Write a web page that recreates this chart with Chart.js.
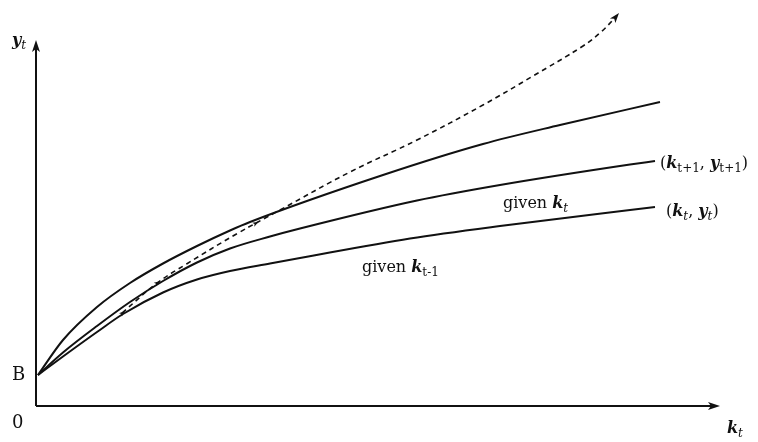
<!DOCTYPE html>
<html>
<head>
<meta charset="utf-8">
<script src="https://cdn.jsdelivr.net/npm/chart.js@4.4.1/dist/chart.umd.min.js"></script>
<style>
  html, body { margin: 0; padding: 0; background: #fff; }
  #wrap { width: 758px; height: 442px; }
</style>
</head>
<body>
<div id="wrap"><canvas id="growth"></canvas></div>
<script>
// capital k (x) and output y
const topK = [2, 27, 61, 94, 127, 161, 194, 214, 347, 447, 524, 624];
const topY = [31, 66, 99, 123, 142.5, 160, 175.5, 184, 231, 262, 281, 304];

const midK = [2, 27, 61, 94, 127, 161, 194, 234, 264, 381, 464, 594, 619];
const midY = [31, 53.5, 80, 104, 125, 143.5, 157.5, 169.5, 177.5, 205.5, 221, 241.5, 245];

const lowK = [2, 27, 61, 87, 127, 161, 194, 234, 264, 374, 464, 594, 619];
const lowY = [31, 49.5, 74, 92, 113.5, 126.5, 135, 142.5, 148, 167.5, 180, 196, 199];

const pathK = [86, 121, 151, 201, 244, 314, 381, 447, 497, 547, 565, 579];
const pathY = [93, 122.8, 142.3, 172.3, 196, 234, 266, 301, 330, 360, 374, 388];

const xMax = 684, yMax = 400, yAxisTop = 366;

// text labels: [k, y, parts]; part = [text, style]
const labels = [
  [-24, 361, [["y", "m"], ["t", "s"]]],
  [-24, 26, [["B", "b"]]],
  [-24, -22, [["0", "b"]]],
  [691, -27, [["k", "m"], ["t", "s"]]],
  [467, 198, [["given ", "n"], ["k", "m"], ["t", "s"]]],
  [326, 134, [["given ", "n"], ["k", "m"], ["t-1", "sn"]]],
  [624, 238, [["(", "n"], ["k", "m"], ["t+1", "sn"], [", ", "n"], ["y", "m"], ["t+1", "sn"], [")", "n"]]],
  [630, 190, [["(", "n"], ["k", "m"], ["t", "s"], [", ", "n"], ["y", "m"], ["t", "s"], [")", "n"]]]
];

function pts(xs, ys) {
  return xs.map((x, i) => ({ x: x, y: ys[i] }));
}

function arrow(ctx, x, y, ang, len, wid) {
  ctx.save();
  ctx.translate(x, y);
  ctx.rotate(ang);
  ctx.beginPath();
  ctx.moveTo(0, 0);
  ctx.lineTo(-len, -wid);
  ctx.lineTo(-len * 0.75, 0);
  ctx.lineTo(-len, wid);
  ctx.closePath();
  ctx.fill();
  ctx.restore();
}

function drawRich(ctx, parts, x, y) {
  let cx = x;
  parts.forEach(p => {
    const t = p[0], s = p[1];
    let font, dy = 0;
    if (s === "n") font = "16px 'DejaVu Serif'";
    else if (s === "b") font = "18px 'DejaVu Serif'";
    else if (s === "m") font = "italic bold 16px 'DejaVu Serif'";
    else if (s === "s") { font = "italic 12px 'DejaVu Serif'"; dy = 4; }
    else { font = "12px 'DejaVu Serif'"; dy = 4; }
    ctx.font = font;
    ctx.fillText(t, cx, y + dy);
    cx += ctx.measureText(t).width;
  });
}

const axesPlugin = {
  id: "axesPlugin",
  afterDatasetsDraw(chart) {
    const ctx = chart.ctx;
    const xs = chart.scales.x, ys = chart.scales.y;
    const x0 = xs.getPixelForValue(0), y0 = ys.getPixelForValue(0);
    const x1 = xs.getPixelForValue(xMax), y1 = ys.getPixelForValue(yAxisTop);
    ctx.save();
    ctx.strokeStyle = "#111";
    ctx.fillStyle = "#111";
    ctx.lineWidth = 2;
    ctx.beginPath();
    ctx.moveTo(x0, y0);
    ctx.lineTo(x1 - 6, y0);
    ctx.moveTo(x0, y0);
    ctx.lineTo(x0, y1 + 6);
    ctx.stroke();
    arrow(ctx, x1, y0, 0, 12, 4);
    arrow(ctx, x0, y1, -Math.PI / 2, 12, 4);

    // arrowheads along the dashed path
    const px = i => xs.getPixelForValue(pathK[i]);
    const py = i => ys.getPixelForValue(pathY[i]);
    const n = pathK.length;
    arrow(ctx, px(n - 1) + 4, py(n - 1) - 5,
      Math.atan2(py(n - 1) - py(n - 2), px(n - 1) - px(n - 2)) - 0.1, 10, 3.5);
    [0, 1].forEach(i => {
      arrow(ctx, px(i) + 3, py(i) - 2, Math.atan2(py(i + 1) - py(i), px(i + 1) - px(i)), 6, 2.2);
    });
    const mx = (px(3) + px(4)) / 2, my = (py(3) + py(4)) / 2;
    arrow(ctx, mx, my, Math.atan2(py(4) - py(3), px(4) - px(3)), 6, 2.2);

    ctx.textBaseline = "alphabetic";
    labels.forEach(l => {
      drawRich(ctx, l[2], xs.getPixelForValue(l[0]), ys.getPixelForValue(l[1]));
    });
    ctx.restore();
  }
};

const solid = { borderColor: "#111", borderWidth: 2, pointRadius: 0, fill: false, cubicInterpolationMode: "monotone" };

new Chart(document.getElementById("growth"), {
  type: "scatter",
  data: {
    datasets: [
      Object.assign({ label: "top", data: pts(topK, topY), showLine: true }, solid),
      Object.assign({ label: "given k_t", data: pts(midK, midY), showLine: true }, solid),
      Object.assign({ label: "given k_t-1", data: pts(lowK, lowY), showLine: true }, solid),
      {
        label: "path", data: pts(pathK, pathY), showLine: true,
        borderColor: "#111", borderWidth: 1.6, borderDash: [5, 4],
        pointRadius: 0, fill: false, tension: 0.4
      }
    ]
  },
  options: {
    responsive: true,
    maintainAspectRatio: false,
    animation: false,
    layout: { padding: { left: 36, right: 38, top: 6, bottom: 36 } },
    plugins: { legend: { display: false }, tooltip: { enabled: false } },
    scales: {
      x: { type: "linear", min: 0, max: xMax, display: false },
      y: { type: "linear", min: 0, max: yMax, display: false }
    }
  },
  plugins: [axesPlugin]
});
</script>
</body>
</html>
